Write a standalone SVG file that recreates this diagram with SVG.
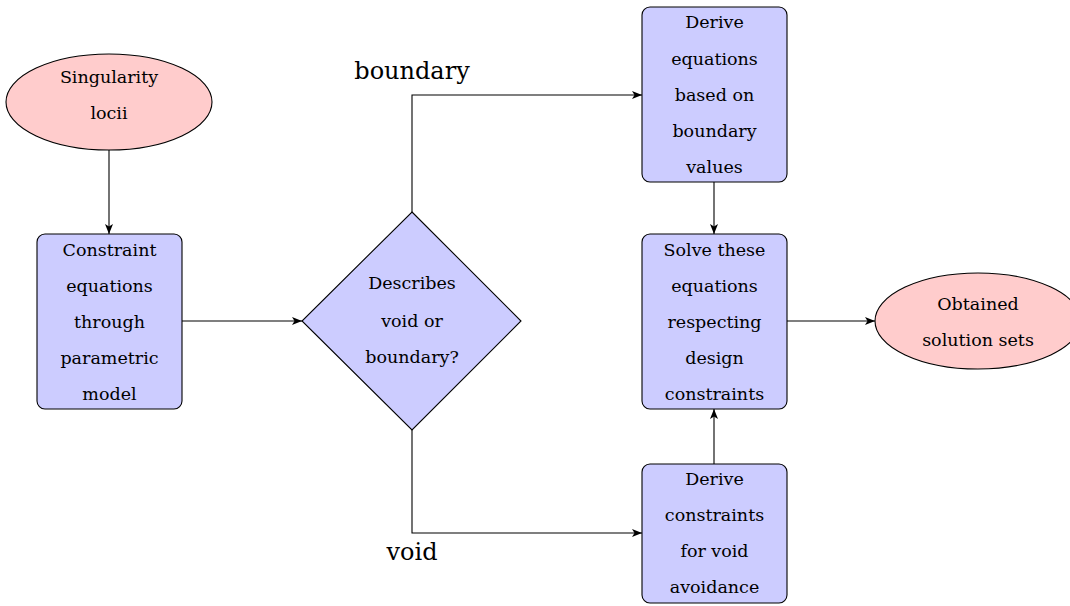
<svg xmlns="http://www.w3.org/2000/svg" width="1070" height="606" viewBox="0 0 1070 606">
<style>
.t{font-family:"DejaVu Serif","Liberation Serif",serif;font-size:17.5px;fill:#000;text-anchor:middle}
.lbl{font-family:"DejaVu Serif","Liberation Serif",serif;font-size:24px;fill:#000;text-anchor:middle}
.box{fill:#ccccff;stroke:#000;stroke-width:1.1}
.term{fill:#ffcccc;stroke:#000;stroke-width:1.1}
.c{fill:none;stroke:#000;stroke-width:1.1;marker-end:url(#ah)}
</style>
<defs>
<marker id="ah" viewBox="0 0 10 8" refX="10" refY="4" markerWidth="10" markerHeight="8" markerUnits="userSpaceOnUse" orient="auto">
<path d="M0,0 L10,4 L0,8 L2.5,4 Z" fill="#000"/>
</marker>
</defs>
<rect width="1070" height="606" fill="#fff"/>
<g id="connectors">
<path class="c" d="M109,150 V234"/>
<path class="c" d="M182,321 H302"/>
<path class="c" d="M412,212 V95 H642"/>
<path class="c" d="M412,430 V533 H642"/>
<path class="c" d="M714,182 V234"/>
<path class="c" d="M714,464 V409"/>
<path class="c" d="M787,321 H875"/>
</g>
<g id="label-boundary"><text class="lbl" x="412" y="79">boundary</text></g>
<g id="label-void"><text class="lbl" x="412" y="560">void</text></g>
<g id="singularity">
<ellipse class="term" cx="109" cy="102" rx="103" ry="48"/>
<text class="t" x="109" y="83">Singularity</text>
<text class="t" x="109" y="119">locii</text>
</g>
<g id="constraint-eq">
<rect class="box" x="37" y="234" width="145" height="175" rx="8"/>
<text class="t" x="109.5" y="256">Constraint</text>
<text class="t" x="109.5" y="292">equations</text>
<text class="t" x="109.5" y="328">through</text>
<text class="t" x="109.5" y="364">parametric</text>
<text class="t" x="109.5" y="400">model</text>
</g>
<g id="decision">
<polygon class="box" points="412,212 521,321 412,430 302,321"/>
<text class="t" x="412" y="289">Describes</text>
<text class="t" x="412" y="327">void or</text>
<text class="t" x="412" y="363">boundary?</text>
</g>
<g id="derive-eq">
<rect class="box" x="642" y="7" width="145" height="175" rx="8"/>
<text class="t" x="714.5" y="28">Derive</text>
<text class="t" x="714.5" y="65">equations</text>
<text class="t" x="714.5" y="101">based on</text>
<text class="t" x="714.5" y="137">boundary</text>
<text class="t" x="714.5" y="173">values</text>
</g>
<g id="solve">
<rect class="box" x="642" y="234" width="145" height="175" rx="8"/>
<text class="t" x="714.5" y="256">Solve these</text>
<text class="t" x="714.5" y="292">equations</text>
<text class="t" x="714.5" y="328">respecting</text>
<text class="t" x="714.5" y="364">design</text>
<text class="t" x="714.5" y="400">constraints</text>
</g>
<g id="derive-constraints">
<rect class="box" x="642" y="464" width="145" height="139" rx="8"/>
<text class="t" x="714.5" y="485">Derive</text>
<text class="t" x="714.5" y="521">constraints</text>
<text class="t" x="714.5" y="557">for void</text>
<text class="t" x="714.5" y="593">avoidance</text>
</g>
<g id="obtained">
<ellipse class="term" cx="978" cy="321" rx="103" ry="48"/>
<text class="t" x="978" y="310">Obtained</text>
<text class="t" x="978" y="346">solution sets</text>
</g>
</svg>
